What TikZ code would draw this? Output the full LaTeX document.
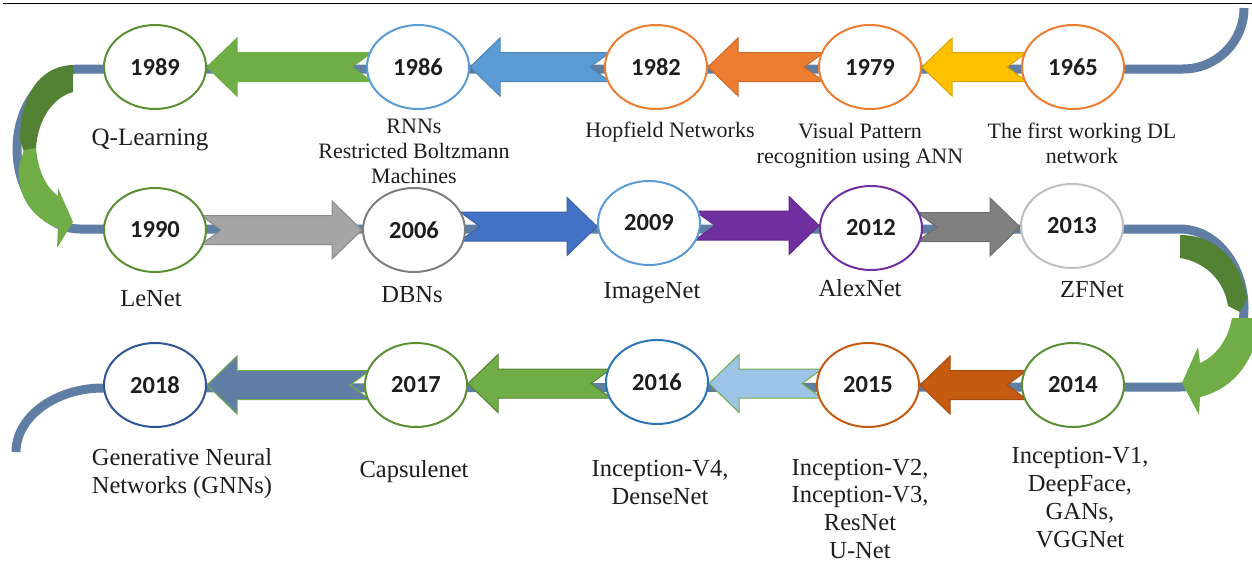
\documentclass[tikz,border=0pt]{standalone}
\usepackage{fontspec}
\setmainfont{Liberation Serif}
\newfontfamily\yrfont{Carlito}
\usetikzlibrary{shapes.geometric,calc,backgrounds}

\definecolor{slate}{RGB}{96,125,164}
\definecolor{lgreen}{RGB}{112,173,71}
\definecolor{dgreen}{RGB}{84,130,53}
\definecolor{ringgreen}{RGB}{90,143,52}
\definecolor{oblue}{RGB}{91,155,213}
\definecolor{oorange}{RGB}{237,125,49}
\definecolor{ogold}{RGB}{255,192,0}
\definecolor{ogray}{RGB}{165,165,165}
\definecolor{droyal}{RGB}{68,114,196}
\definecolor{opurple}{RGB}{112,48,160}
\definecolor{mgray}{RGB}{128,128,128}
\definecolor{rust}{RGB}{197,90,17}
\definecolor{paleblue}{RGB}{157,195,230}
\definecolor{ringgray}{RGB}{127,127,127}
\definecolor{ringlgray}{RGB}{191,191,191}
\definecolor{ringblue}{RGB}{46,117,182}
\definecolor{ringnavy}{RGB}{47,85,151}
\definecolor{txt}{RGB}{30,30,30}

% leftward block arrow: #1 source (right node), #2 target (left node)
\newcommand\arrL[4]{%
  \path[fill=#3,draw=#4,line width=0.5pt,line join=miter]
    let \p1=(#1.west), \p2=(#2.east), \p3=($(#1.center)!0.5!(#2.center)$) in
    (\x2,\y3) -- (\x2+15pt,\y3+14.5pt) -- (\x2+15pt,\y3+7.25pt)
    -- (\x1+3pt,\y3+7.25pt) -- (\x1-7pt,\y3) -- (\x1+3pt,\y3-7.25pt)
    -- (\x2+15pt,\y3-7.25pt) -- (\x2+15pt,\y3-14.5pt) -- cycle;}
% rightward block arrow: #1 source (left node), #2 target (right node)
\newcommand\arrR[4]{%
  \path[fill=#3,draw=#4,line width=0.5pt,line join=miter]
    let \p1=(#1.east), \p2=(#2.west), \p3=($(#1.center)!0.5!(#2.center)$) in
    (\x2,\y3) -- (\x2-15pt,\y3+14.5pt) -- (\x2-15pt,\y3+7.25pt)
    -- (\x1-3pt,\y3+7.25pt) -- (\x1+7pt,\y3) -- (\x1-3pt,\y3-7.25pt)
    -- (\x2-15pt,\y3-7.25pt) -- (\x2-15pt,\y3-14.5pt) -- cycle;}

\begin{document}
\begin{tikzpicture}[x=0.5pt,y=-0.5pt,
  yr/.style={ellipse, draw=#1, line width=1pt, fill=white,
    minimum width=51pt, minimum height=42pt, inner sep=0pt,
    text=txt, font=\yrfont\bfseries\fontsize{12.25}{14}\selectfont},
  lbl/.style={anchor=base, align=center, inner sep=0pt, text=txt,
    font=\fontsize{12.25}{14}\selectfont},
  lbls/.style={anchor=base, align=center, inner sep=0pt, text=txt,
    font=\fontsize{11}{12.5}\selectfont},
]
\useasboundingbox (0,0) rectangle (1252,562);
\draw[line width=0.7pt] (3,3.5) -- (1252,3.5);

% year ellipses
\node[yr=ringgreen]  (e1989) at (155,67)  {1989};
\node[yr=oblue]      (e1986) at (418,67)  {1986};
\node[yr=oorange]    (e1982) at (656,67)  {1982};
\node[yr=oorange]    (e1979) at (870,67)  {1979};
\node[yr=oorange]    (e1965) at (1073,67) {1965};
\node[yr=ringgreen]  (e1990) at (155,230) {1990};
\node[yr=ringgray]   (e2006) at (414,230) {2006};
\node[yr=oblue]      (e2009) at (649,223) {2009};
\node[yr=opurple]    (e2012) at (871,228) {2012};
\node[yr=ringlgray]  (e2013) at (1072,226) {2013};
\node[yr=ringnavy]   (e2018) at (155,385) {2018};
\node[yr=ringgreen]  (e2017) at (416,385) {2017};
\node[yr=ringblue]   (e2016) at (657,382) {2016};
\node[yr=rust]       (e2015) at (868,385) {2015};
\node[yr=ringgreen]  (e2014) at (1073,385) {2014};

% labels (anchor base = baseline of the last line)
\node[lbl,font=\fontsize{12.5}{14}\selectfont] (tQ) at (150,145) {Q-Learning};
\node[lbls] (tRNN) at (414,183) {RNNs\\Restricted Boltzmann\\Machines};
\node[lbls] (tHop) at (670,137) {Hopfield Networks};
\node[lbls] (tVis) at (860,163) {Visual Pattern\\recognition using ANN};
\node[lbls] (tFirst) at (1082,163) {The first working DL\\network};
\node[lbl] (tLe) at (151,306) {LeNet};
\node[lbl] (tDBN) at (412,302) {DBNs};
\node[lbl] (tImg) at (652,298) {ImageNet};
\node[lbl] (tAlex) at (860,296) {AlexNet};
\node[lbl] (tZF) at (1092,297) {ZFNet};
\node[lbl] (tGen) at (182,493) {Generative Neural\\Networks (GNNs)};
\node[lbl] (tCap) at (414,477) {Capsulenet};
\node[lbl,font=\fontsize{12.25}{13.6}\selectfont] (tI4) at (660,504) {Inception-V4,\\DenseNet};
\node[lbl,font=\fontsize{12.25}{13.8}\selectfont] (tI2) at (860,558) {Inception-V2,\\Inception-V3,\\ResNet\\U-Net};
\node[lbl] (tI1) at (1080,547) {Inception-V1,\\DeepFace,\\GANs,\\VGGNet};

\begin{pgfonlayer}{background}
% serpentine timeline line
\coordinate (startR) at (1244,8);
\coordinate (endL) at (16,452);
\draw[slate, line width=4.5pt]
  (startR) .. controls (1244,41.7) and (1216.7,69) .. (1183,69)
  -- (80,69) .. controls (45.2,69) and (17,104.8) .. (17,149)
  .. controls (17,193.2) and (45.2,229) .. (80,229)
  -- (1180,229) .. controls (1215.3,229) and (1244,264.4) .. (1244,308)
  .. controls (1244,351.6) and (1215.3,387) .. (1180,387)
  -- (103,388) .. controls (55,388) and (16,417.2) .. (endL);

% curved arrow 1989 -> 1990
\fill[dgreen] (73,65) .. controls (38,66) and (20,98) .. (20,140)
  -- (24,152) -- (36,148) .. controls (38,120) and (52,98) .. (73,92) -- cycle;
\fill[lgreen] (24,150) -- (19,165) .. controls (16,198) and (34,219) .. (58,228)
  -- (57,248) -- (73,222) -- (58,188) -- (58,196)
  .. controls (45,186) and (38,170) .. (36,148) -- cycle;
% curved arrow 2013 -> 2014
\fill[dgreen] (1180,235) .. controls (1214,235) and (1240,258) .. (1247,298)
  -- (1240,312) -- (1228,306) .. controls (1224,280) and (1205,262) .. (1180,258) -- cycle;
\fill[lgreen] (1240,318) -- (1253,318) -- (1253,350)
  .. controls (1242,376) and (1224,391) .. (1200,397)
  -- (1199,415) -- (1182,383) -- (1198,347) -- (1200,363)
  .. controls (1216,356) and (1228,340) .. (1232,318) -- cycle;

% block arrows
\arrL{e1986}{e1989}{lgreen}{lgreen}
\arrL{e1982}{e1986}{oblue}{oblue!85!black}
\arrL{e1979}{e1982}{oorange}{oorange!85!black}
\arrL{e1965}{e1979}{ogold}{ogold!85!black}
\arrR{e1990}{e2006}{ogray}{ogray!85!black}
\arrR{e2006}{e2009}{droyal}{droyal!85!black}
\arrR{e2009}{e2012}{opurple}{opurple!85!black}
\arrR{e2012}{e2013}{mgray}{mgray!85!black}
\arrL{e2014}{e2015}{rust}{rust!85!black}
\arrL{e2015}{e2016}{paleblue}{lgreen}
\arrL{e2016}{e2017}{lgreen}{dgreen}
\arrL{e2017}{e2018}{slate}{lgreen}
\end{pgfonlayer}
\end{tikzpicture}
\end{document}
